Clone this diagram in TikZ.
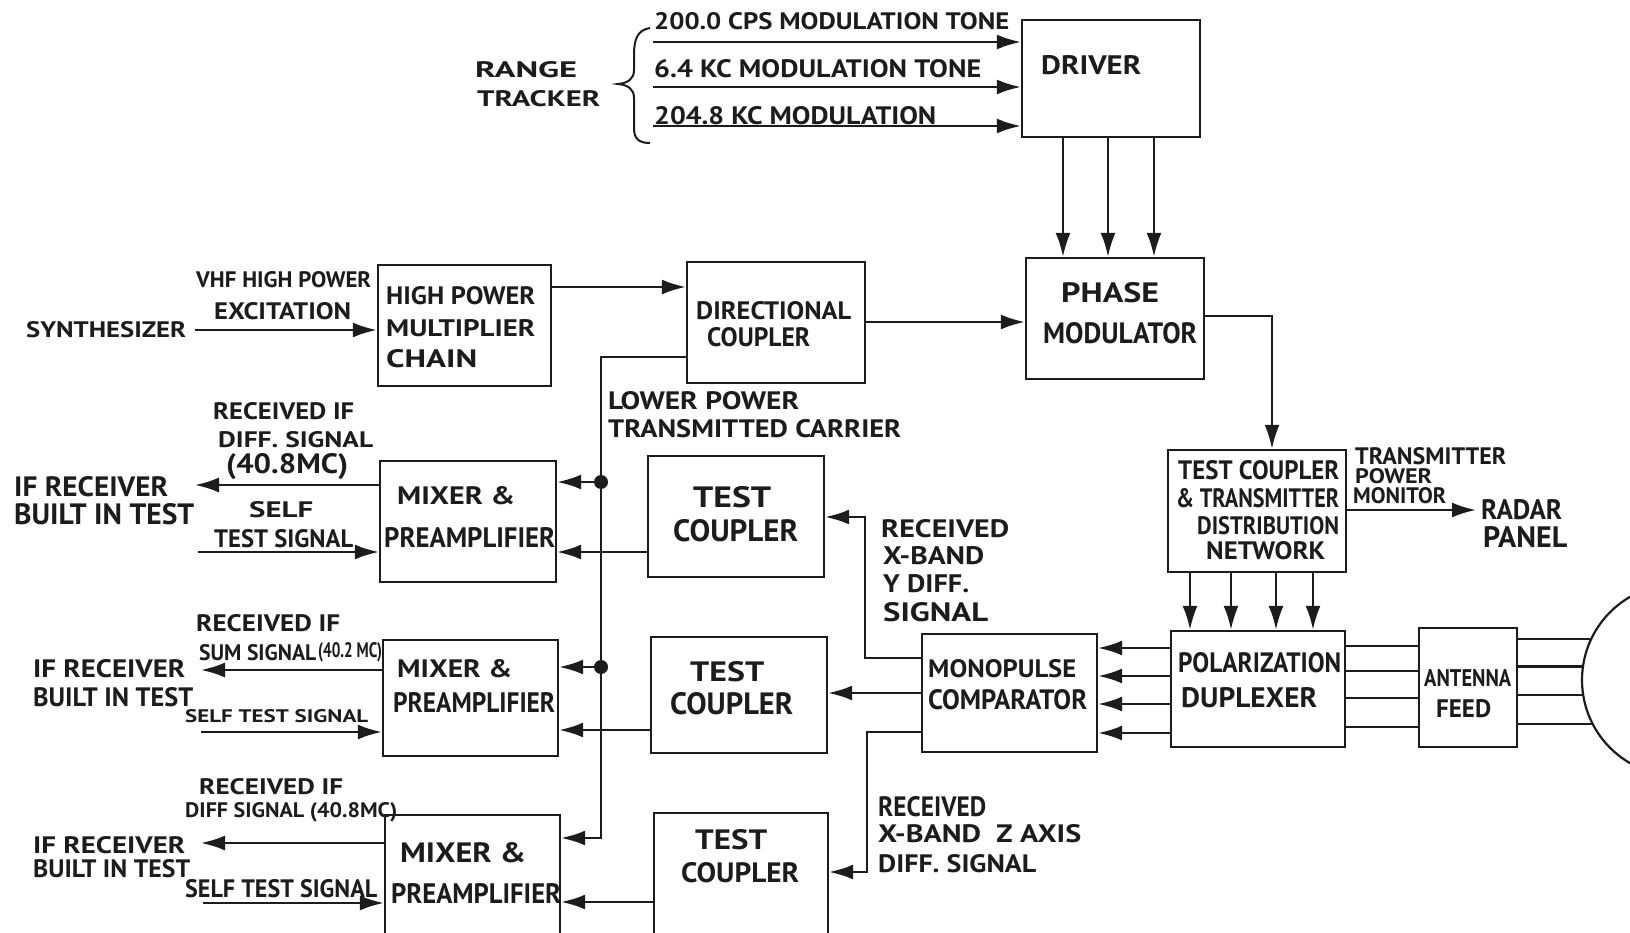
\documentclass[tikz,border=0pt]{standalone}
\usepackage{fontspec}
\setmainfont{PT Sans}
\usepackage{graphicx}
\usetikzlibrary{arrows.meta,calc}
\definecolor{ink}{HTML}{1C1C1C}
\newcommand\fitt[3]{\resizebox{#1pt}{#2pt}{#3}}
\begin{document}
\begin{tikzpicture}[x=1pt,y=-1pt,
  line width=2.4pt, draw=ink, color=ink,
  blk/.style={draw=ink, inner sep=0pt, line width=2.4pt},
  txt/.style={inner sep=0pt, anchor=west, text=ink, font=\bfseries},
  arr/.style={-{Latex[length=24pt,width=15pt]}},
  dish/.style={draw=ink, circle, inner sep=0pt, minimum size=192pt, line width=2.2pt}]
\newcommand\lbl[6]{\node[txt] (#1) at (#2,#3) {\fitt{#4}{#5}{#6}};}
\useasboundingbox (0,0) rectangle (1630,933);
\fill[white] (0,0) rectangle (1630,933);
\clip (0,0) rectangle (1630,933);

% ---------- blocks ----------
\node[blk, minimum width=178pt, minimum height=117pt] (driver) at (1111,78.5) {};
\node[blk, minimum width=178pt, minimum height=121pt] (pm) at (1115,318.5) {};
\node[blk, minimum width=173pt, minimum height=121pt] (hp) at (464.5,325.5) {};
\node[blk, minimum width=178pt, minimum height=121pt] (dc) at (776,322.5) {};
\node[blk, minimum width=176pt, minimum height=121pt] (mix1) at (468,521.5) {};
\node[blk, minimum width=176pt, minimum height=121pt] (tc1) at (736,516.5) {};
\node[blk, minimum width=175pt, minimum height=116pt] (mix2) at (470.5,698) {};
\node[blk, minimum width=176pt, minimum height=116pt] (tc2) at (739,695) {};
\node[blk, minimum width=175pt, minimum height=145pt] (mix3) at (472.5,887.5) {};
\node[blk, minimum width=174pt, minimum height=147pt] (tc3) at (741,886.5) {};
\node[blk, minimum width=175pt, minimum height=118pt] (mono) at (1009.5,693) {};
\node[blk, minimum width=174pt, minimum height=116pt] (dup) at (1258,689) {};
\node[blk, minimum width=178pt, minimum height=122pt] (tct) at (1257,511) {};
\node[blk, minimum width=98pt, minimum height=119pt] (feed) at (1468,687.5) {};
\node[dish] (dish) at (1678,680) {};

% ---------- texts in blocks ----------
\lbl{tdriver}{1040}{65}{100}{19}{DRIVER}
\lbl{tpm1}{1060}{293}{98}{20}{PHASE}
\lbl{tpm2}{1042}{333}{154}{21}{MODULATOR}
\lbl{thp1}{385}{296}{149}{18}{HIGH POWER}
\lbl{thp2}{385}{328.5}{149}{17}{MULTIPLIER}
\lbl{thp3}{385}{359}{91}{18}{CHAIN}
\lbl{tdc1}{695}{311}{155}{18}{DIRECTIONAL}
\lbl{tdc2}{706}{337}{103}{19}{COUPLER}
\lbl{tmx1a}{396}{496}{118}{18}{MIXER \&}
\lbl{tmx1b}{383}{537}{171}{20}{PREAMPLIFIER}
\lbl{ttc1a}{692}{497.5}{78}{21}{TEST}
\lbl{ttc1b}{672}{531}{125}{22}{COUPLER}
\lbl{tmx2a}{396}{669}{115}{18}{MIXER \&}
\lbl{tmx2b}{392}{702}{162}{20}{PREAMPLIFIER}
\lbl{ttc2a}{689}{672}{74}{20}{TEST}
\lbl{ttc2b}{669}{704}{123}{22}{COUPLER}
\lbl{tmx3a}{399}{853}{126}{20}{MIXER \&}
\lbl{tmx3b}{390}{893}{170}{20}{PREAMPLIFIER}
\lbl{ttc3a}{694}{840}{72}{20}{TEST}
\lbl{ttc3b}{680}{873}{118}{20}{COUPLER}
\lbl{tmono1}{927}{669}{148}{18}{MONOPULSE}
\lbl{tmono2}{927}{700}{159}{20}{COMPARATOR}
\lbl{tdup1}{1177}{663}{163}{20}{POLARIZATION}
\lbl{tdup2}{1180}{698}{136}{20}{DUPLEXER}
\lbl{ttct1}{1177}{470}{161}{19}{TEST COUPLER}
\lbl{ttct2}{1175}{498}{163}{19}{\& TRANSMITTER}
\lbl{ttct3}{1196}{526}{142}{18}{DISTRIBUTION}
\lbl{ttct4}{1205}{551}{119}{18}{NETWORK}
\lbl{tfeed1}{1423}{678.5}{87}{17}{ANTENNA}
\lbl{tfeed2}{1435}{709}{55}{18}{FEED}

% ---------- free labels ----------
\lbl{t200}{653}{21.5}{355}{17}{200.0 CPS MODULATION TONE}
\lbl{t64}{653}{69}{327}{18}{6.4 KC MODULATION TONE}
\lbl{t204}{653}{116}{282}{18}{204.8 KC MODULATION}
\lbl{trange}{474}{69.5}{102}{16}{RANGE}
\lbl{ttracker}{476}{98.5}{123}{16}{TRACKER}
\lbl{synth}{25}{330}{160}{16}{SYNTHESIZER}
\lbl{tvhf1}{195}{280}{175}{16}{VHF HIGH POWER}
\lbl{tvhf2}{213}{311.5}{137}{17}{EXCITATION}
\lbl{tlow1}{607}{401}{191}{18}{LOWER POWER}
\lbl{tlow2}{607}{429}{293}{18}{TRANSMITTED CARRIER}
\lbl{try1}{880}{529}{128}{18}{RECEIVED}
\lbl{try2}{882}{556}{101}{18}{X-BAND}
\lbl{try3}{882}{584}{86}{18}{Y DIFF.}
\lbl{try4}{882}{612.5}{105}{19}{SIGNAL}
\lbl{trz1}{877}{807}{108}{20}{RECEIVED}
\lbl{trz2}{877}{834}{203}{18}{X-BAND\enspace Z AXIS}
\lbl{trz3}{877}{864}{158}{18}{DIFF. SIGNAL}
\lbl{tpw1}{1354}{456.5}{151}{17}{TRANSMITTER}
\lbl{tpw2}{1354}{476.5}{77}{15}{POWER}
\lbl{tpw3}{1352}{496}{93}{16}{MONITOR}
\lbl{radar}{1480}{510}{81}{20}{RADAR}
\lbl{panel}{1482}{537.5}{84}{21}{PANEL}
% mixer 1 side
\lbl{ifr1a}{13}{487}{154}{20}{IF RECEIVER}
\lbl{ifr1b}{13}{514}{180}{21}{BUILT IN TEST}
\lbl{rif1a}{212}{411.5}{141}{17}{RECEIVED IF}
\lbl{rif1b}{217}{440}{155}{16}{DIFF. SIGNAL}
\lbl{rif1c}{225}{467}{122}{20}{(40.8MC)}
\lbl{st1a}{248}{510}{64}{16}{SELF}
\lbl{st1b}{213}{539}{139}{18}{TEST SIGNAL}
% mixer 2 side
\lbl{ifr2a}{32}{669}{152}{18}{IF RECEIVER}
\lbl{ifr2b}{32}{697.5}{160}{19}{BUILT IN TEST}
\lbl{rif2a}{195}{623.5}{144}{17}{RECEIVED IF}
\lbl{rif2b}{198}{653}{117}{16}{SUM SIGNAL}
\lbl{rif2c}{317}{652}{64}{15}{(40.2 MC)}
\lbl{st2}{184}{716.5}{183}{13}{SELF TEST SIGNAL}
% mixer 3 side
\lbl{ifr3a}{32}{845}{152}{17}{IF RECEIVER}
\lbl{ifr3b}{32}{869}{157}{18}{BUILT IN TEST}
\lbl{rif3a}{198}{787}{144}{16}{RECEIVED IF}
\lbl{rif3b}{184}{812}{212}{15}{DIFF SIGNAL (40.8MC)}
\lbl{st3}{184}{889}{192}{18}{SELF TEST SIGNAL}

% ---------- brace ----------
\draw[line width=2pt] (650,28) .. controls (637,30) and (634,40) .. (634,55) -- (634,70)
  .. controls (634,79) and (628,83) .. (618,84)
  .. controls (628,85) and (634,89) .. (634,98) -- (634,128)
  .. controls (634,138) and (638,143) .. (650,143);

% ---------- connectors ----------
\coordinate (r1) at (653,42);
\coordinate (r2) at (653,87);
\coordinate (r3) at (653,126);
\foreach \r in {r1,r2,r3} \draw[arr] (\r) -- (driver.west |- \r);
\foreach \xx in {1063,1108,1154} \draw[arr] (driver.south -| \xx,0) -- (pm.north -| \xx,0);

\draw[arr] ([xshift=8pt]synth.east) -- (hp.west |- synth.east);
\draw[arr] (hp.east |- 0,287) -- (dc.west |- 0,287);
\draw[arr] (dc.east |- 0,322) -- (pm.west |- 0,322);
\draw[arr] (pm.east |- 0,316) -| (tct.north -| 1272,0);

% lower power transmitted carrier bus
\coordinate (bus1) at (601,482);
\coordinate (bus2) at (601,667);
\coordinate (bus3) at (601,838);
\draw[arr] (dc.west |- 0,357) -| (bus3) -- (mix3.east |- bus3);
\fill (bus1) circle (7pt);
\fill (bus2) circle (7pt);
\draw[arr] (bus1) -- (mix1.east |- bus1);
\draw[arr] (bus2) -- (mix2.east |- bus2);

% test couplers to mixers
\draw[arr] (tc1.west |- 0,552) -- (mix1.east |- 0,552);
\draw[arr] (tc2.west |- 0,730) -- (mix2.east |- 0,730);
\draw[arr] (tc3.west |- 0,902) -- (mix3.east |- 0,902);

% mixer outputs and self test inputs
\coordinate (if1) at (195,485);
\coordinate (if2) at (201,670);
\coordinate (if3) at (201,843);
\draw[arr] (mix1.west |- if1) -- (if1);
\draw[arr] (mix2.west |- if2) -- (if2);
\draw[arr] (mix3.west |- if3) -- (if3);
\coordinate (s1) at (198,552);
\coordinate (s2) at (201,732);
\coordinate (s3) at (203,903);
\draw[arr] (s1) -- (mix1.west |- s1);
\draw[arr] (s2) -- (mix2.west |- s2);
\draw[arr] (s3) -- (mix3.west |- s3);

% monopulse comparator to test couplers
\draw[arr] (mono.west |- 0,658) -| (865,517) -- (tc1.east |- 0,517);
\draw[arr] (mono.west |- 0,693) -- (tc2.east |- 0,693);
\draw[arr] (mono.west |- 0,732) -| (867,872) -- (tc3.east |- 0,872);

% duplexer to monopulse
\foreach \yy in {648,676,704,733} \draw[arr] (dup.west |- 0,\yy) -- (mono.east |- 0,\yy);
% distribution network to duplexer
\foreach \xx in {1190,1231,1276,1313} \draw[arr] (tct.south -| \xx,0) -- (dup.north -| \xx,0);
% transmitter power monitor
\draw[arr] (tct.east |- 0,510) -- ([xshift=-4pt]radar.west);

% duplexer to antenna feed
\foreach \yy in {646,671,698,727} \draw (dup.east |- 0,\yy) -- (feed.west |- 0,\yy);
% antenna feed to dish
\foreach \aa in {155,172,189,207} \draw (feed.east |- dish.\aa) -- (dish.\aa);
\end{tikzpicture}
\end{document}
